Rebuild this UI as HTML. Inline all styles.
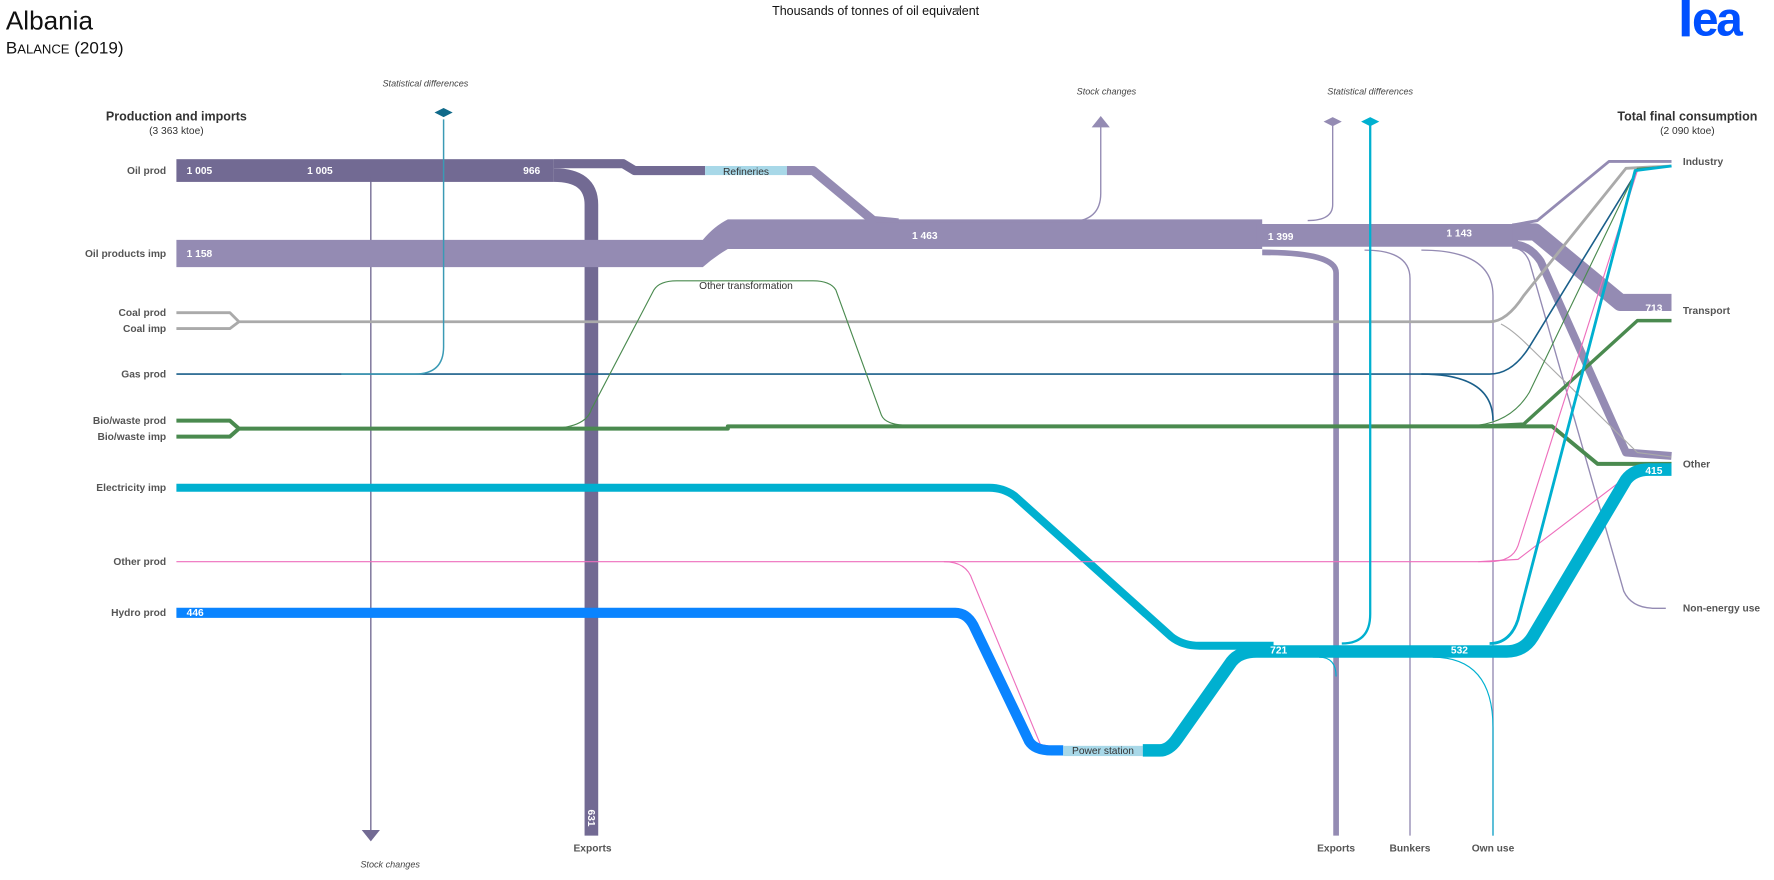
<!DOCTYPE html>
<html><head><meta charset="utf-8"><style>
html,body{margin:0;padding:0;background:#fff;width:1774px;height:880px;overflow:hidden}
svg{display:block}
text{font-family:"Liberation Sans",sans-serif}
</style></head><body>
<svg width="1774" height="880" viewBox="0 0 1560 774" xmlns="http://www.w3.org/2000/svg">
<g fill="none" stroke-linejoin="round">
<!-- Oil prod -->
<rect x="155" y="140" width="332" height="20" fill="#726a93" stroke="none"/>
<path d="M326 156 Q326 160 326 170 L326 732" stroke="#726a93" stroke-width="1.2"/>
<path d="M487 144 L548 144 L558 150 L620 150" stroke="#726a93" stroke-width="8"/>
<path d="M487 154 Q520 154 520 180 L520 735" stroke="#726a93" stroke-width="12"/>
<rect x="620" y="146" width="72" height="8" fill="#a8d8e8" stroke="none"/>
<path d="M692 150 L715 150 L768 194 L790 196" stroke="#948bb3" stroke-width="8"/>
<!-- Oil products -->
<path d="M155 211 L618 211 Q628 199 640 193 L1110 193 L1110 219 L640 219 Q628 226 618 235 L155 235 Z" fill="#948bb3" stroke="none"/>
<path d="M770 195 L940 195 Q968 195 968 170 L968 110" stroke="#948bb3" stroke-width="1.2"/>
<path d="M1105 207 L1335 207" stroke="#948bb3" stroke-width="20"/>
<path d="M1150 194 Q1172 194 1172 180 L1172 110" stroke="#948bb3" stroke-width="1.2"/>
<path d="M1110 222 Q1175 222 1175 240 L1175 735" stroke="#948bb3" stroke-width="5"/>
<path d="M1200 220 Q1240 220 1240 245 L1240 735" stroke="#948bb3" stroke-width="1.2"/>
<path d="M1250 220 Q1313 220 1313 260 L1313 735" stroke="#948bb3" stroke-width="1.2"/>
<path d="M1330 198 L1352 194 L1415 142 L1470 142" stroke="#948bb3" stroke-width="2.5"/>
<path d="M1330 204 L1350 204 L1425 266 L1470 266" stroke="#948bb3" stroke-width="15"/>
<path d="M1330 215 Q1345 215 1355 230 L1430 398 L1470 401" stroke="#948bb3" stroke-width="7"/>
<path d="M1330 218 Q1340 218 1345 230 L1428 520 Q1435 535 1455 535 L1465 535" stroke="#948bb3" stroke-width="1.2"/>
<!-- Coal -->
<path d="M155 275 L202 275 L210 283 M155 289 L202 289 L210 283 L1310 283 Q1325 283 1340 260 L1430 148 L1470 146" stroke="#aaa" stroke-width="2.5"/>
<path d="M1320 285 Q1330 290 1345 305 L1440 398 L1470 402" stroke="#aaa" stroke-width="1"/>
<!-- Gas -->
<path d="M155 329 L1310 329 Q1330 329 1345 305 L1440 150 L1470 146" stroke="#1a5f8a" stroke-width="1.4"/>
<path d="M1250 329 Q1313 329 1313 370" stroke="#1a5f8a" stroke-width="1.4"/>
<path d="M300 329 L365 329 Q390 329 390 305 L390 105" stroke="#3a9ab5" stroke-width="1.3"/>
<path d="M382 99 L390 95 L398 99 L390 103 Z" fill="#106a8a" stroke="none"/>
<!-- Bio -->
<path d="M155 370 L202 370 L210 377 M155 384 L202 384 L210 377 L640 377 L640 375 L1365 375 L1405 408 L1470 408" stroke="#4a8a4f" stroke-width="3.5"/>
<path d="M1300 375 L1340 373 L1440 282 L1470 282" stroke="#4a8a4f" stroke-width="3"/>
<path d="M1300 374 Q1330 370 1345 345 L1440 148 L1470 146" stroke="#4a8a4f" stroke-width="1"/>
<path d="M480 377 Q515 377 520 360 L575 255 Q580 247 595 247 L715 247 Q730 247 735 255 L775 365 Q778 373 795 374" stroke="#4a8a4f" stroke-width="1"/>
<!-- Electricity -->
<path d="M155 429 L870 429 Q882 429 892 436 L1030 560 Q1040 568 1055 568 L1120 568" stroke="#00b0d0" stroke-width="7"/>
<!-- Other prod -->
<path d="M155 494 L1310 494 Q1330 494 1335 480 L1440 150 L1470 146" stroke="#ee6fbd" stroke-width="1"/>
<path d="M1300 494 L1335 492 L1440 412 L1470 410" stroke="#ee6fbd" stroke-width="1"/>
<path d="M830 494 Q850 494 855 510 L915 655 L935 658" stroke="#ee6fbd" stroke-width="1"/>
<!-- Hydro -->
<path d="M155 539 L840 539 Q850 539 856 550 L905 652 Q910 660 925 660 L935 660" stroke="#0a84ff" stroke-width="9"/>
<!-- Power station -->
<rect x="935" y="656" width="70" height="9" fill="#a8d8e8" stroke="none"/>
<path d="M1005 660 L1020 660 Q1028 660 1035 650 L1083 582 Q1090 573 1105 573 L1325 573 Q1340 573 1348 560 L1430 422 Q1437 413 1450 413 L1470 413" stroke="#00b0d0" stroke-width="11"/>
<path d="M1180 566 Q1205 566 1205 540 L1205 110" stroke="#00b0d0" stroke-width="2"/>
<path d="M1197 107 L1205 103 L1213 107 L1205 111 Z" fill="#00b0d0" stroke="none"/>
<path d="M1164 107 L1172 103 L1180 107 L1172 111 Z" fill="#948bb3" stroke="none"/>
<path d="M1310 566 Q1328 566 1335 545 L1438 150 L1470 146" stroke="#00b0d0" stroke-width="2.5"/>
<path d="M1160 578 Q1175 578 1175 595" stroke="#00b0d0" stroke-width="1"/>
<path d="M1260 578 Q1313 578 1313 640 L1313 735" stroke="#00b0d0" stroke-width="1"/>
<!-- arrows -->
<path d="M318 730 L326 740 L334 730 Z" fill="#726a93" stroke="none"/>
<path d="M960 112 L968 102 L976 112 Z" fill="#948bb3" stroke="none"/>
</g>
<g font-size="9" font-weight="bold" fill="#fff">
<text x="164" y="153">1 005</text><text x="270" y="153">1 005</text><text x="460" y="153">966</text>
<text x="164" y="226">1 158</text><text x="802" y="210">1 463</text><text x="1115" y="211">1 399</text><text x="1272" y="208">1 143</text>
<text x="1447" y="274">713</text><text x="1447" y="417">415</text><text x="1117" y="575">721</text><text x="1276" y="575">532</text>
<text x="164" y="542">446</text>
<text x="0" y="0" transform="translate(517,712) rotate(90)">631</text>
</g>
<g font-size="9" fill="#333">
<text x="656" y="154" text-anchor="middle">Refineries</text>
<text x="656" y="254" text-anchor="middle">Other transformation</text>
<text x="970" y="663" text-anchor="middle">Power station</text>
</g>
<g font-size="9" font-weight="bold" fill="#555" text-anchor="end">
<text x="146" y="153">Oil prod</text><text x="146" y="226">Oil products imp</text>
<text x="146" y="278">Coal prod</text><text x="146" y="292">Coal imp</text>
<text x="146" y="332">Gas prod</text><text x="146" y="373">Bio/waste prod</text><text x="146" y="387">Bio/waste imp</text>
<text x="146" y="432">Electricity imp</text><text x="146" y="497">Other prod</text><text x="146" y="542">Hydro prod</text>
</g>
<g font-size="9" font-weight="bold" fill="#555">
<text x="1480" y="145">Industry</text><text x="1480" y="276">Transport</text><text x="1480" y="411">Other</text><text x="1480" y="538">Non-energy use</text>
</g>
<g font-size="9" font-weight="bold" fill="#555" text-anchor="middle">
<text x="521" y="749">Exports</text><text x="1175" y="749">Exports</text><text x="1240" y="749">Bunkers</text><text x="1313" y="749">Own use</text>
</g>
<g font-size="8" font-style="italic" fill="#444" text-anchor="middle">
<text x="374" y="76">Statistical differences</text><text x="973" y="83">Stock changes</text>
<text x="1205" y="83">Statistical differences</text><text x="343" y="763">Stock changes</text>
</g>
<g fill="#333" text-anchor="middle">
<text x="155" y="106" font-size="11" font-weight="bold">Production and imports</text>
<text x="155" y="118" font-size="9">(3 363 ktoe)</text>
<text x="1484" y="106" font-size="11" font-weight="bold">Total final consumption</text>
<text x="1484" y="118" font-size="9">(2 090 ktoe)</text>
<text x="770" y="13" font-size="11" fill="#111">Thousands of tonnes of oil equivalent</text>
</g>
<path d="M838 7 L846 7 L842 11 Z" fill="#888"/>
<text x="5" y="26" font-size="23" fill="#111">Albania</text>
<text x="5" y="47" font-size="15" fill="#111">B<tspan font-size="11.5">ALANCE</tspan> (2019)</text>
<g fill="#0050ff">
<rect x="1479" y="0" width="7" height="32"/>
<text x="1488" y="31" font-size="42" font-weight="bold" letter-spacing="-2">ea</text>
</g>
</svg>
</body></html>
